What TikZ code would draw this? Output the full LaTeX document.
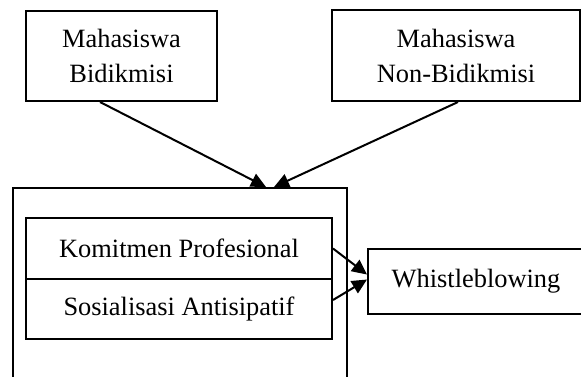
\documentclass[tikz,border=0pt]{standalone}
\usepackage{fontspec}
\setmainfont{Liberation Serif}
\usepackage{tikz}
\usetikzlibrary{arrows.meta}
\tikzset{
box/.style = {rectangle, draw=black, line width=1pt, align=center,
              minimum width=#1, inner sep=0pt},
box/.default = 2cm, % width of the box
}
\tikzset{
link/.style = {line width=1pt, -{Triangle[length=7.5pt,width=7pt]}}
}

\begin{document}
\begin{tikzpicture}[x=0.5pt, y=-0.5pt, font=\fontsize{13.2}{17.5}\selectfont]
\useasboundingbox (0,0) rectangle (581,376);

\node[box=95.5pt, minimum height=45pt] (bidik) at (121.5,56) {Mahasiswa\\Bidikmisi};
\node[box=124pt, minimum height=45.5pt] (nonBidik) at (456,55.5) {Mahasiswa\\Non-Bidikmisi};
\node[box=167pt, minimum height=96pt] (groupBox) at (180,284) {};
\node[box=153pt, minimum height=30.5pt] (komitmen) at (179,248.5) {Komitmen Profesional};
\node[box=153pt, minimum height=30pt] (sosialisasi) at (179,309) {Sosialisasi Antisipatif};
\node[box=108pt, minimum height=32.5pt] (whistle) at (476,281.5) {Whistleblowing};
\coordinate (tipL) at (266,187);
\coordinate (tipR) at (274,187);
\draw[link] ([xshift=-10.75pt]bidik.south) -- (tipL);
\draw[link] ([xshift=1pt]nonBidik.south) -- (tipR);
\draw[link] (komitmen.east) -- ([yshift=3.5pt]whistle.west);
\draw[link] ([yshift=4.5pt]sosialisasi.east) -- ([yshift=1pt]whistle.west);
\end{tikzpicture}
\end{document}
